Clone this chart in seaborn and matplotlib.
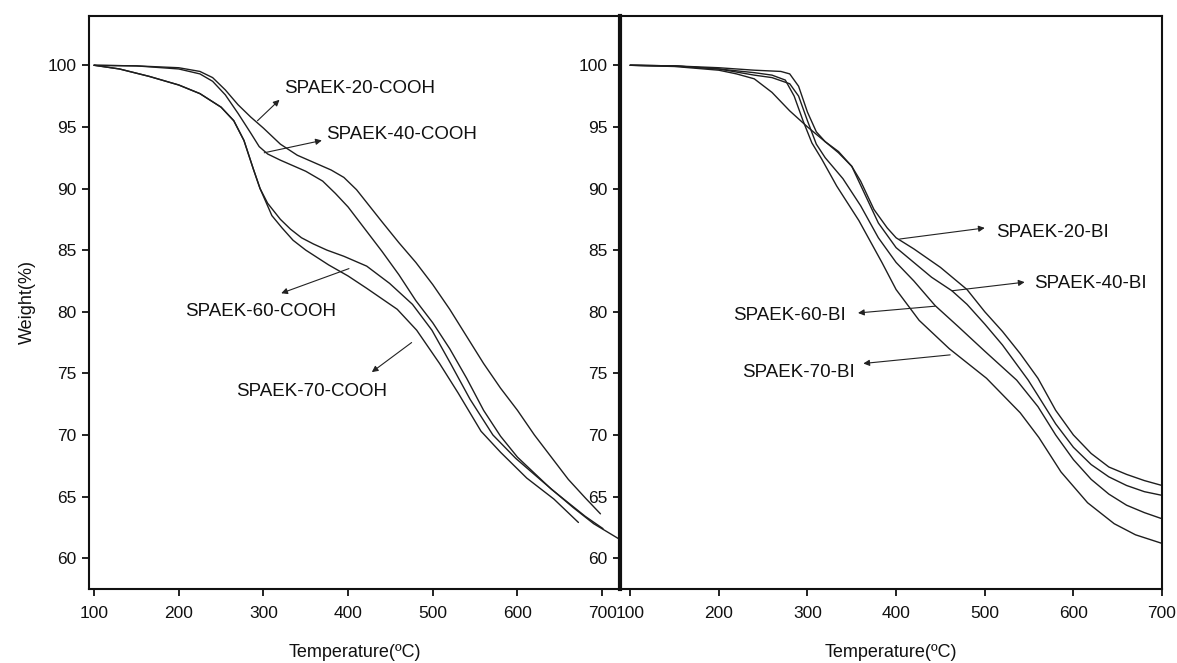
import matplotlib
matplotlib.use('Agg')
import pandas as pd
import seaborn as sns
import matplotlib.pyplot as plt

# ---- data (temperature in C, weight in %) ----
cooh20_t = [100, 150, 200, 225, 240, 255, 270, 285, 300, 320, 340, 360, 380, 395, 410, 425, 440, 460, 480, 500, 520, 540, 560, 580, 600, 620, 640, 660, 680, 698]
cooh20_w = [100, 99.95, 99.8, 99.5, 99.0, 98.0, 96.8, 95.8, 94.9, 93.6, 92.7, 92.1, 91.5, 90.9, 89.9, 88.6, 87.3, 85.6, 84.0, 82.2, 80.2, 78.0, 75.8, 73.8, 72.0, 70.0, 68.2, 66.4, 64.9, 63.6]

cooh40_t = [100, 150, 200, 225, 240, 255, 270, 285, 295, 305, 320, 350, 370, 385, 400, 420, 440, 460, 480, 500, 520, 540, 560, 580, 600, 620, 640, 660, 680, 701]
cooh40_w = [100, 99.95, 99.7, 99.3, 98.7, 97.6, 96.1, 94.5, 93.4, 92.8, 92.3, 91.4, 90.6, 89.6, 88.5, 86.7, 84.9, 83.0, 80.9, 79.1, 77.0, 74.6, 72.0, 69.9, 68.2, 66.9, 65.6, 64.5, 63.4, 62.4]

cooh60_t = [100, 130, 165, 200, 225, 250, 265, 277, 288, 296, 305, 320, 332, 345, 359, 375, 395, 422, 449, 476, 499, 521, 544, 571, 598, 630, 666, 690, 719]
cooh60_w = [100, 99.7, 99.1, 98.4, 97.7, 96.6, 95.5, 93.9, 91.6, 90.0, 88.8, 87.5, 86.7, 86.0, 85.5, 85.0, 84.5, 83.7, 82.3, 80.6, 78.5, 75.8, 72.9, 70.0, 68.1, 66.2, 64.1, 62.8, 61.6]

cooh70_t = [100, 130, 165, 200, 225, 250, 265, 277, 288, 296, 310, 322, 335, 350, 377, 400, 422, 458, 481, 508, 530, 557, 580, 611, 643, 672]
cooh70_w = [100, 99.7, 99.1, 98.4, 97.7, 96.6, 95.5, 93.9, 91.6, 90.0, 87.8, 86.8, 85.8, 85.0, 83.8, 82.9, 81.9, 80.2, 78.5, 75.8, 73.4, 70.3, 68.6, 66.5, 64.8, 62.9]

bi20_t = [100, 150, 200, 240, 270, 280, 290, 300, 310, 320, 335, 350, 360, 375, 390, 400, 420, 450, 480, 500, 520, 540, 560, 580, 600, 620, 640, 660, 680, 700]
bi20_w = [100, 99.95, 99.8, 99.6, 99.5, 99.3, 98.3, 96.2, 94.6, 93.8, 92.9, 91.8, 90.6, 88.3, 86.8, 86.0, 85.1, 83.6, 81.8, 80.0, 78.4, 76.6, 74.6, 72.0, 70.0, 68.5, 67.4, 66.8, 66.3, 65.9]

bi40_t = [100, 150, 200, 220, 240, 260, 280, 300, 320, 335, 350, 365, 380, 400, 420, 440, 463, 480, 500, 520, 549, 560, 580, 600, 620, 640, 660, 680, 700]
bi40_w = [100, 99.9, 99.6, 99.3, 98.9, 97.8, 96.3, 95.0, 93.8, 93.0, 91.8, 89.5, 87.2, 85.2, 84.0, 82.8, 81.7, 80.6, 79.0, 77.3, 74.45, 73.2, 70.9, 69.0, 67.6, 66.6, 65.9, 65.4, 65.1]

bi60_t = [100, 150, 200, 240, 260, 280, 290, 300, 310, 320, 340, 360, 380, 400, 420, 444, 470, 500, 536, 560, 580, 600, 620, 640, 660, 680, 700]
bi60_w = [100, 99.95, 99.7, 99.2, 99.0, 98.5, 97.5, 95.5, 93.6, 92.5, 90.8, 88.6, 86.0, 84.0, 82.5, 80.5, 78.8, 76.8, 74.45, 72.3, 70.0, 68.0, 66.4, 65.2, 64.3, 63.7, 63.2]

bi70_t = [100, 150, 200, 240, 260, 275, 285, 295, 305, 316, 333, 358, 384, 400, 426, 460, 502, 540, 561, 586, 616, 646, 670, 700]
bi70_w = [100, 99.95, 99.7, 99.4, 99.2, 98.8, 97.5, 95.5, 93.7, 92.4, 90.2, 87.4, 84.0, 81.8, 79.3, 77.0, 74.6, 71.8, 69.8, 67.0, 64.5, 62.8, 61.9, 61.2]

x_ticks = [100, 200, 300, 400, 500, 600, 700]
y_ticks = [60, 65, 70, 75, 80, 85, 90, 95, 100]

# label text, text position, arrow tail (on curve), arrow head
cooh_labels = [
    ('SPAEK-20-COOH', (324, 98.1), (293, 95.5), (319, 97.2)),
    ('SPAEK-40-COOH', (374, 94.4), (301, 92.9), (369, 93.9)),
    ('SPAEK-60-COOH', (207, 80.0), (401, 83.5), (321, 81.5)),
    ('SPAEK-70-COOH', (268, 73.5), (475, 77.5), (428, 75.1)),
]
bi_labels = [
    ('SPAEK-20-BI', (513, 86.4), (404, 85.9), (500, 86.8)),
    ('SPAEK-40-BI', (556, 82.3), (463, 81.7), (545, 82.4)),
    ('SPAEK-60-BI', (216, 79.7), (444, 80.45), (357, 79.9)),
    ('SPAEK-70-BI', (226, 75.1), (461, 76.5), (363, 75.8)),
]

sns.set_style('ticks')
plt.rcParams['font.family'] = ['Liberation Sans', 'DejaVu Sans']

fig = plt.figure(figsize=(11.77, 6.63), dpi=100)
ax1 = fig.add_axes([0.0756, 0.1116, 0.4511, 0.8643])
ax2 = fig.add_axes([0.5268, 0.1116, 0.4605, 0.8643])

line_col = '#1e1e1e'

for t, w in [(cooh20_t, cooh20_w), (cooh40_t, cooh40_w), (cooh60_t, cooh60_w), (cooh70_t, cooh70_w)]:
    sns.lineplot(x=t, y=w, ax=ax1, color=line_col, lw=1.0, sort=False, estimator=None)
for t, w in [(bi20_t, bi20_w), (bi40_t, bi40_w), (bi60_t, bi60_w), (bi70_t, bi70_w)]:
    sns.lineplot(x=t, y=w, ax=ax2, color=line_col, lw=1.0, sort=False, estimator=None)

for ax, labels in [(ax1, cooh_labels), (ax2, bi_labels)]:
    for txt, pos, tail, head in labels:
        ax.text(pos[0], pos[1], txt, fontsize=13.5, va='center', ha='left', color='#111111')
        ax.annotate('', xy=head, xytext=tail,
                    arrowprops=dict(arrowstyle='-|>', lw=0.8, color='#222222',
                                    mutation_scale=9, shrinkA=0, shrinkB=0))

ax1.set_xlim(94, 721)
ax2.set_xlim(88.6, 700)
for ax in (ax1, ax2):
    ax.set_ylim(57.5, 104)
    ax.set_xticks(x_ticks)
    ax.set_yticks(y_ticks)
    ax.tick_params(direction='out', length=5, width=1.3, labelsize=12.5, colors='#111111', pad=4)
    ax.tick_params(axis='x', pad=7)
    ax.set_xlabel('Temperature(ºC)', fontsize=13, labelpad=17, color='#111111')
    ax.set_ylabel('')
    for s in ax.spines.values():
        s.set_linewidth(1.5)
        s.set_color('#111111')

ax1.spines['right'].set_visible(False)
ax2.spines['left'].set_linewidth(3.0)
ax1.set_ylabel('Weight(%)', fontsize=13, labelpad=8, color='#111111')
ax1.tick_params(axis='y', right=False)
ax2.tick_params(axis='y', right=False)

fig.savefig('out.png', dpi=100, facecolor='white')
